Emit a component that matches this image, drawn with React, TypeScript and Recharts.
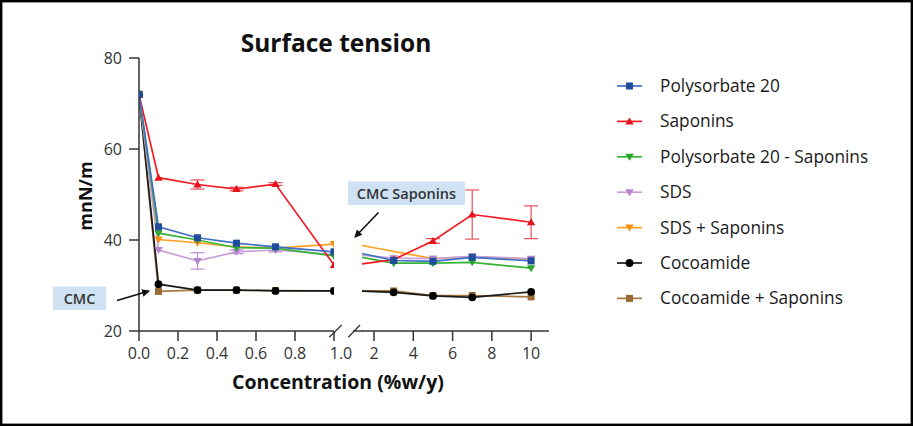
import React from 'react';
import { LineChart, Line, XAxis, YAxis, ErrorBar } from 'recharts';

// ---------- data ----------
const concentrations = [0, 0.1, 0.3, 0.5, 0.7, 1, 3, 5, 7, 10];
const polysorbate20 = [72, 42.9, 40.5, 39.3, 38.5, 37.4, 35.5, 35.3, 36.2, 35.4];
const saponins = [72, 53.7, 52.2, 51.2, 52.3, 34.5, 35.7, 39.8, 45.6, 43.9];
const saponinsErr = [0, 0, 1.0, 0.4, 0.3, 0, 0, 0.5, 5.4, 3.6];
const polysorbate20Saponins = [72, 41.5, 40.0, 38.3, 38.2, 36.5, 34.9, 34.9, 35.1, 33.8];
const sds = [72, 37.8, 35.4, 37.4, 37.8, 36.8, 36.0, 35.9, 36.4, 35.9];
const sdsErr = [0, 0, 1.8, 0.4, 0.4, 0, 0, 0, 0, 0];
const sdsSaponins = [72, 40.1, 39.4, 38.5, 38.2, 39.1, null, 35.9, 36.3, 35.8];
const cocoamide = [72, 30.3, 29.0, 29.0, 28.8, 28.8, 28.5, 27.7, 27.4, 28.6];
const cocoamideSaponins = [72, 28.7, 29.0, 29.0, 28.9, 28.8, 28.8, 27.8, 27.8, 27.5];

const leftTicks = [0, 0.2, 0.4, 0.6, 0.8, 1.0];
const rightTicks = [2, 4, 6, 8, 10];
const yTicks = [20, 40, 60, 80];

const FONT = '"Open Sans", "DejaVu Sans", sans-serif';

type Shape = 'square' | 'triUp' | 'triDown' | 'circle';
interface SeriesDef {
  key: string;
  name: string;
  values: (number | null)[];
  color: string;
  marker: string;
  shape: Shape;
  err?: number[];
  errColor?: string;
}

const series: SeriesDef[] = [
  { key: 'p20', name: 'Polysorbate 20', values: polysorbate20, color: '#3f6fc4', marker: '#1f4d9c', shape: 'square' },
  { key: 'sap', name: 'Saponins', values: saponins, color: '#f41c24', marker: '#e5141c', shape: 'triUp', err: saponinsErr, errColor: '#e8505a' },
  { key: 'p20sap', name: 'Polysorbate 20 - Saponins', values: polysorbate20Saponins, color: '#37b437', marker: '#2aa42a', shape: 'triDown' },
  { key: 'sds', name: 'SDS', values: sds, color: '#c7a0da', marker: '#b582cc', shape: 'triDown', err: sdsErr, errColor: '#c08ad4' },
  { key: 'sdssap', name: 'SDS + Saponins', values: sdsSaponins, color: '#ffa020', marker: '#f59010', shape: 'triDown' },
  { key: 'coco', name: 'Cocoamide', values: cocoamide, color: '#1a1a1a', marker: '#000000', shape: 'circle' },
  { key: 'cocosap', name: 'Cocoamide + Saponins', values: cocoamideSaponins, color: '#a87842', marker: '#9a6a32', shape: 'square' },
];

const rows = concentrations.map((x, i) => {
  const r: any = { x };
  series.forEach((s) => {
    r[s.key] = s.values[i];
    if (s.err) r[s.key + 'Err'] = s.err[i];
  });
  return r;
});
const leftRows = rows.filter((r) => r.x <= 1);
const rightRows = rows.filter((r) => r.x >= 1);

function Marker({ shape, cx, cy, color }: { shape: Shape; cx: number; cy: number; color: string }) {
  switch (shape) {
    case 'square':
      return <rect x={cx - 3.5} y={cy - 3.5} width={7} height={7} fill={color} />;
    case 'triUp':
      return <polygon points={`${cx},${cy - 4} ${cx + 4.2},${cy + 3} ${cx - 4.2},${cy + 3}`} fill={color} />;
    case 'triDown':
      return <polygon points={`${cx},${cy + 4} ${cx + 4.2},${cy - 3} ${cx - 4.2},${cy - 3}`} fill={color} />;
    case 'circle':
    default:
      return <circle cx={cx} cy={cy} r={3.9} fill={color} />;
  }
}

const makeDot = (s: SeriesDef, minX: number) => (p: any) => {
  const k = `${s.key}-dot-${p.index}`;
  if (p.cy == null || p.cx == null || p.payload == null || p.payload.x < minX || p.value == null) return <g key={k} />;
  return (
    <g key={k}>
      <Marker shape={s.shape} cx={p.cx} cy={p.cy} color={s.marker} />
    </g>
  );
};

const tickStyle = { fontSize: 16, fill: '#333', fontFamily: FONT };
const axisLine = { stroke: '#333', strokeWidth: 1.5 };

const LeftTick = (props: any) => {
  const { x, y, payload } = props;
  const shift = payload.value === 1 ? 7 : 0;
  return (
    <text x={x + shift} y={y} dy="0.71em" textAnchor="middle" {...tickStyle}>
      {Number(payload.value).toFixed(1)}
    </text>
  );
};

function renderLines(minX: number) {
  // draw in reverse so the first series sits on top
  return [...series].reverse().map((s) => (
    <Line
      key={s.key}
      dataKey={s.key}
      name={s.name}
      type="linear"
      stroke={s.color}
      strokeWidth={1.7}
      dot={makeDot(s, minX)}
      activeDot={false}
      connectNulls
      isAnimationActive={false}
    >
      {s.err ? (
        <ErrorBar dataKey={s.key + 'Err'} width={7} stroke={s.errColor} strokeWidth={1.2} direction="y" />
      ) : null}
    </Line>
  ));
}

export default function App() {
  const legendY0 = 86;
  const legendStep = 35.4;
  return (
    <div style={{ position: 'absolute', left: 0, top: 0, width: 913, height: 426, background: '#fff', fontFamily: FONT }}>
      {/* left segment */}
      <div style={{ position: 'absolute', left: 0, top: 0 }}>
        <LineChart width={365} height={426} data={leftRows} margin={{ top: 58, right: 31, bottom: 55, left: 79 }}>
          <XAxis
            dataKey="x"
            type="number"
            domain={[0, 1]}
            ticks={leftTicks}
            allowDataOverflow
            height={40}
            tickSize={10}
            tickMargin={7}
            axisLine={axisLine}
            tickLine={axisLine}
            tick={<LeftTick />}
          />
          <YAxis
            type="number"
            domain={[20, 80]}
            ticks={yTicks}
            allowDataOverflow
            width={60}
            tickSize={10}
            tickMargin={7}
            axisLine={axisLine}
            tickLine={axisLine}
            tick={tickStyle}
          />
          {renderLines(-1)}
        </LineChart>
      </div>
      {/* right segment */}
      <div style={{ position: 'absolute', left: 340, top: 0 }}>
        <LineChart width={220} height={426} data={rightRows} margin={{ top: 58, right: 11, bottom: 55, left: 22 }}>
          <XAxis
            dataKey="x"
            type="number"
            domain={[1.387, 10.91]}
            ticks={rightTicks}
            allowDataOverflow
            height={40}
            tickSize={10}
            tickMargin={7}
            axisLine={axisLine}
            tickLine={axisLine}
            tick={tickStyle}
          />
          <YAxis type="number" domain={[20, 80]} ticks={yTicks} allowDataOverflow hide />
          {renderLines(1.5)}
        </LineChart>
      </div>
      {/* decorations */}
      <svg width={913} height={426} style={{ position: 'absolute', left: 0, top: 0, pointerEvents: 'none' }}>
        <defs>
          <marker id="arrowHead" markerWidth="8" markerHeight="8" refX="7" refY="4" orient="auto" markerUnits="userSpaceOnUse">
            <path d="M0,0 L8,4 L0,8 Z" fill="#111" />
          </marker>
        </defs>
        <rect x={1.2} y={1.2} width={910.6} height={423.6} fill="none" stroke="#000" strokeWidth={2.4} />
        <text x={336} y={52} textAnchor="middle" fontSize={24.5} fontWeight={700} fill="#111" fontFamily={FONT}>
          Surface tension
        </text>
        <text x={338} y={388.5} textAnchor="middle" fontSize={19.5} fontWeight={700} fill="#111" fontFamily={FONT}>
          Concentration (%w/y)
        </text>
        <text
          x={0}
          y={0}
          transform="translate(92,196) rotate(-90)"
          textAnchor="middle"
          fontSize={18}
          fontWeight={700}
          fill="#111"
          fontFamily={FONT}
        >
          mnN/m
        </text>
        {/* axis break */}
        <line x1={353} y1={331} x2={363} y2={331} stroke="#333" strokeWidth={1.5} />
        <line x1={329.3} y1={337.3} x2={341.7} y2={325} stroke="#333" strokeWidth={1.3} />
        <line x1={348.3} y1={337.3} x2={360} y2={325} stroke="#333" strokeWidth={1.3} />
        {/* CMC annotations */}
        <rect x={53} y={286.5} width={53} height={23.5} fill="#cfe2f3" />
        <text x={79.5} y={303.5} textAnchor="middle" fontSize={14.5} fontWeight={600} fill="#333" fontFamily={FONT}>
          CMC
        </text>
        <line x1={117} y1={300.5} x2={149} y2={291} stroke="#111" strokeWidth={1.6} markerEnd="url(#arrowHead)" />
        <rect x={348} y={181.5} width={117} height={23.5} fill="#cfe2f3" />
        <text x={406.5} y={198.5} textAnchor="middle" fontSize={14.5} fontWeight={600} fill="#333" fontFamily={FONT}>
          CMC Saponins
        </text>
        <line x1={378.5} y1={212.5} x2={355} y2={237} stroke="#111" strokeWidth={1.6} markerEnd="url(#arrowHead)" />
        {/* legend */}
        {series.map((s, i) => {
          const y = legendY0 + i * legendStep;
          return (
            <g key={s.key}>
              <line x1={617} y1={y} x2={642} y2={y} stroke={s.color} strokeWidth={1.7} />
              <Marker shape={s.shape} cx={629.5} cy={y} color={s.marker} />
              <text x={660} y={y + 6} fontSize={17.3} fill="#1a1a1a" fontFamily={FONT}>
                {s.name}
              </text>
            </g>
          );
        })}
      </svg>
    </div>
  );
}
